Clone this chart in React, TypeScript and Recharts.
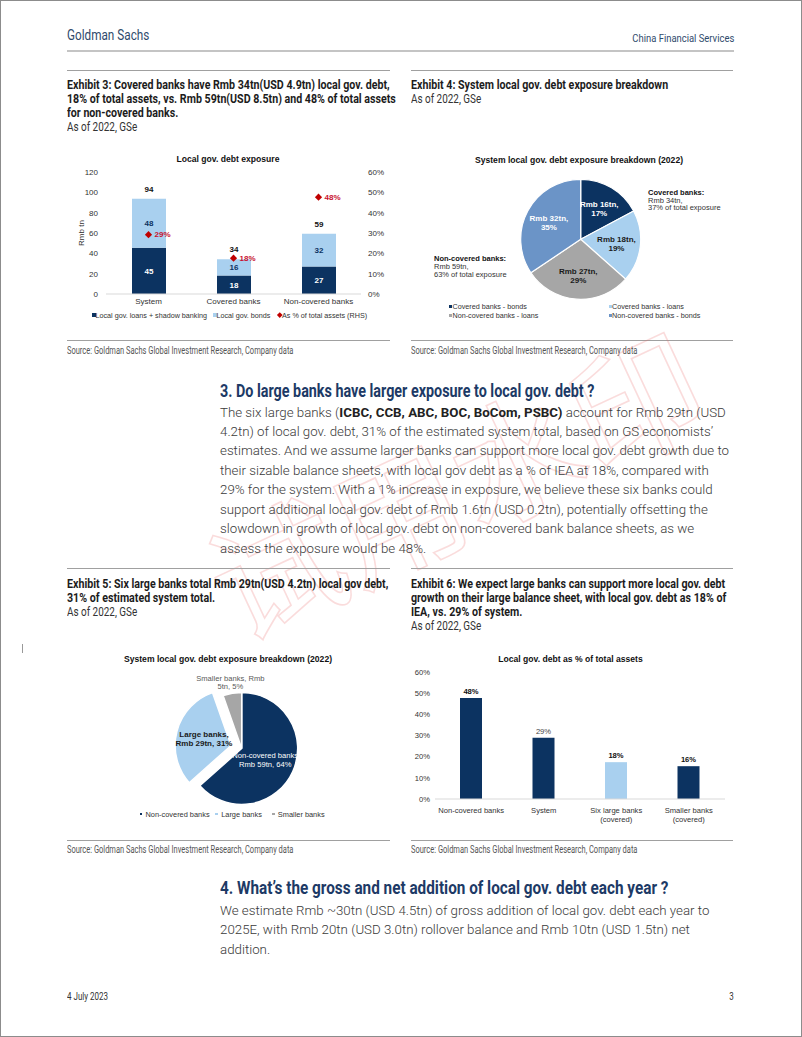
import React from "react";
import { ComposedChart, BarChart, Bar, Line, XAxis, YAxis, LabelList, PieChart, Pie, Cell } from "recharts";

const NAVY = "#0c3361";
const LIGHT = "#a9d0ef";
const GREY = "#a6a6a6";
const MID = "#6b94c7";
const RED = "#c8102e";

const ARIAL = '"Liberation Sans", Arial, sans-serif';
const NARROW = "Roboto, sans-serif";
const BODY = 'Roboto, "Liberation Sans", sans-serif';

// Exhibit 3: local gov. debt exposure (Rmb tn) + % of total assets
const exposureCats = ["System", "Covered banks", "Non-covered banks"];
const loansShadow = [45.4, 18.3, 27.0];
const govBonds = [48.4, 15.9, 32.2];
const pctAssets = [29.2, 17.6, 47.6];
const exposureTicks = [0, 20, 40, 60, 80, 100, 120];
const pctTicks = [0, 10, 20, 30, 40, 50, 60];
const exposureSeries = ["Local gov. loans + shadow banking", "Local gov. bonds", "As % of total assets (RHS)"];

// Exhibit 4: system breakdown pie
const breakdownNames = ["Covered banks - bonds", "Covered banks - loans", "Non-covered banks - loans", "Non-covered banks - bonds"];
const breakdownValues = [16, 18, 27, 32];
const breakdownPct = [17, 19, 29, 35];
const breakdownColors = [NAVY, LIGHT, GREY, MID];

// Exhibit 5: large banks share pie
const bankNames = ["Non-covered banks", "Large banks", "Smaller banks"];
const bankValues = [59, 29, 5];
const bankPct = [64, 31, 5];
const bankColors = [NAVY, LIGHT, GREY];

// Exhibit 6: debt as % of total assets
const ratioCats = ["Non-covered banks", "System", "Six large banks\n(covered)", "Smaller banks\n(covered)"];
const ratioValues = [47.7, 28.9, 17.4, 15.5];
const ratioLabels = ["48%", "29%", "18%", "16%"];
const ratioColors = [NAVY, NAVY, LIGHT, NAVY];

const section3Lines = [
  "4.2tn) of local gov. debt, 31% of the estimated system total, based on GS economists’",
  "estimates. And we assume larger banks can support more local gov. debt growth due to",
  "their sizable balance sheets, with local gov debt as a % of IEA at 18%, compared with",
  "29% for the system. With a 1% increase in exposure, we believe these six banks could",
  "support additional local gov. debt of Rmb 1.6tn (USD 0.2tn), potentially offsetting the",
  "slowdown in growth of local gov. debt on non-covered bank balance sheets, as we",
  "assess the exposure would be 48%.",
];
const section4Lines = [
  "We estimate Rmb ~30tn (USD 4.5tn) of gross addition of local gov. debt each year to",
  "2025E, with Rmb 20tn (USD 3.0tn) rollover balance and Rmb 10tn (USD 1.5tn) net",
  "addition.",
];

const RAD = Math.PI / 180;

type TxtProps = {
  x?: number;
  right?: number;
  y: number;
  size: number;
  lh?: number;
  weight?: number | string;
  color?: string;
  font?: string;
  center?: boolean;
  sx?: number;
  children: React.ReactNode;
};

function Txt({ x = 0, right, y, size, lh, weight = 400, color = "#222", font = NARROW, center, sx, children }: TxtProps) {
  const L = lh ?? Math.round(size * 1.25);
  const scale = sx ?? (font === NARROW ? (Number(weight) >= 600 ? 0.86 : 0.8) : 1);
  const style: React.CSSProperties = {
    position: "absolute",
    top: y - L / 2,
    fontSize: size,
    lineHeight: `${L}px`,
    fontWeight: weight as any,
    color,
    fontFamily: font,
    whiteSpace: "nowrap",
  };
  if (center) {
    style.left = x - 200;
    style.width = 400;
    style.textAlign = "center";
  } else if (right !== undefined) {
    style.right = 802 - right;
  } else {
    style.left = x;
  }
  if (scale !== 1) {
    style.transform = `scaleX(${scale})`;
    style.transformOrigin = center ? "50% 50%" : right !== undefined ? "100% 50%" : "0 50%";
  }
  return <div style={style}>{children}</div>;
}

function Rule({ x1, x2, y, h = 1, color = "#a0a0a0" }: { x1: number; x2: number; y: number; h?: number; color?: string }) {
  return <div style={{ position: "absolute", left: x1, top: y, width: x2 - x1, height: h, background: color }} />;
}

function Marker({ x, y, color, shape = "square", size = 4 }: { x: number; y: number; color: string; shape?: string; size?: number }) {
  return (
    <div
      style={{
        position: "absolute",
        left: x - size / 2,
        top: y - size / 2,
        width: size,
        height: size,
        background: color,
        transform: shape === "diamond" ? "rotate(45deg)" : undefined,
      }}
    />
  );
}

const tickStyle = { fontSize: 8, fill: "#333", fontFamily: ARIAL };

function ExposureChart() {
  const data = exposureCats.map((name, i) => ({
    name,
    loans: loansShadow[i],
    bonds: govBonds[i],
    total: loansShadow[i] + govBonds[i],
    pct: pctAssets[i],
  }));

  const diamond = (p: any) => {
    const s = 3.6;
    return (
      <path
        key={`dm${p.index}`}
        d={`M${p.cx},${p.cy - s}L${p.cx + s},${p.cy}L${p.cx},${p.cy + s}L${p.cx - s},${p.cy}Z`}
        fill="#c00000"
      />
    );
  };

  return (
    <ComposedChart width={330} height={160} data={data} margin={{ top: 22, right: 0, bottom: 0, left: 0 }}>
      <XAxis
        dataKey="name"
        height={16}
        interval={0}
        tickLine={false}
        tickSize={0}
        tickMargin={4}
        axisLine={{ stroke: "#d9d9d9" }}
        tick={tickStyle}
      />
      <YAxis
        yAxisId="left"
        width={46}
        domain={[0, 120]}
        ticks={exposureTicks}
        axisLine={false}
        tickLine={false}
        tickSize={0}
        tickMargin={8}
        tick={tickStyle}
        label={{ value: "Rmb tn", angle: -90, position: "center", dx: -2, fontSize: 8, fill: "#333", fontFamily: ARIAL }}
      />
      <YAxis
        yAxisId="right"
        orientation="right"
        width={29}
        domain={[0, 60]}
        ticks={pctTicks}
        tickFormatter={(v) => `${v}%`}
        axisLine={false}
        tickLine={false}
        tickSize={0}
        tickMargin={7}
        tick={tickStyle}
      />
      <Bar yAxisId="left" dataKey="loans" stackId="a" fill={NAVY} barSize={34} isAnimationActive={false}>
        <LabelList
          dataKey="loans"
          position="center"
          formatter={(v: any) => Math.round(Number(v))}
          fill="#fff"
          fontSize={8}
          fontWeight="bold"
          fontFamily={ARIAL}
        />
      </Bar>
      <Bar yAxisId="left" dataKey="bonds" stackId="a" fill={LIGHT} barSize={34} isAnimationActive={false}>
        <LabelList
          dataKey="bonds"
          position="center"
          formatter={(v: any) => Math.round(Number(v))}
          fill={NAVY}
          fontSize={8}
          fontWeight="bold"
          fontFamily={ARIAL}
        />
        <LabelList
          dataKey="total"
          position="top"
          offset={7}
          formatter={(v: any) => Math.round(Number(v))}
          fill="#111"
          fontSize={8}
          fontWeight="bold"
          fontFamily={ARIAL}
        />
      </Bar>
      <Line yAxisId="right" dataKey="pct" stroke="none" dot={diamond} activeDot={false} isAnimationActive={false}>
        <LabelList
          dataKey="pct"
          position="right"
          offset={6}
          formatter={(v: any) => `${Math.round(Number(v))}%`}
          fill={RED}
          fontSize={8}
          fontWeight="bold"
          fontFamily={ARIAL}
        />
      </Line>
    </ComposedChart>
  );
}

function BreakdownPie() {
  const data = breakdownNames.map((name, i) => ({ name, value: breakdownValues[i] }));
  const label = (p: any) => {
    const i = p.index;
    const r = p.outerRadius * 0.6;
    const x = p.cx + r * Math.cos(-p.midAngle * RAD);
    const y = p.cy + r * Math.sin(-p.midAngle * RAD);
    const fill = i === 0 || i === 3 ? "#fff" : "#1a1a1a";
    return (
      <text key={`bl${i}`} x={x} y={y} textAnchor="middle" fontSize={8} fontWeight="bold" fill={fill} fontFamily={ARIAL}>
        <tspan x={x} dy={-1.3}>{`Rmb ${breakdownValues[i]}tn,`}</tspan>
        <tspan x={x} dy={8.6}>{`${breakdownPct[i]}%`}</tspan>
      </text>
    );
  };
  return (
    <PieChart width={330} height={180}>
      <Pie
        data={data}
        dataKey="value"
        cx={170.7}
        cy={84.3}
        outerRadius={60}
        startAngle={90}
        endAngle={-270}
        stroke="#fff"
        strokeWidth={1.2}
        labelLine={false}
        label={label}
        isAnimationActive={false}
      >
        {data.map((d, i) => (
          <Cell key={d.name} fill={breakdownColors[i]} />
        ))}
      </Pie>
    </PieChart>
  );
}

function BanksPie() {
  const data = bankNames.map((name, i) => ({ name, value: bankValues[i] }));
  const label = (p: any) => {
    const i = p.index;
    if (i === 1) return <g key={`n${i}`} />;
    if (i === 0) {
      const r = p.outerRadius * 0.48;
      const x = p.cx + r * Math.cos(-p.midAngle * RAD);
      const y = p.cy + r * Math.sin(-p.midAngle * RAD);
      return (
        <text key={`bk${i}`} x={x - 1} y={y} textAnchor="middle" fontSize={7.6} fill="#fff" fontFamily={ARIAL}>
          <tspan x={x - 1} dy={-1.3}>{bankNames[i]}</tspan>
          <tspan x={x - 1} dy={8.4}>{`Rmb ${bankValues[i]}tn, ${bankPct[i]}%`}</tspan>
        </text>
      );
    }
    const r = p.outerRadius * 1.2;
    const x = p.cx + r * Math.cos(-p.midAngle * RAD);
    const y = p.cy + r * Math.sin(-p.midAngle * RAD);
    return (
      <text key={`bk${i}`} x={x} y={y} textAnchor="middle" fontSize={7.6} fill="#595959" fontFamily={ARIAL}>
        <tspan x={x} dy={-1.3}>{`${bankNames[i]}, Rmb`}</tspan>
        <tspan x={x} dy={8.2}>{`${bankValues[i]}tn, ${bankPct[i]}%`}</tspan>
      </text>
    );
  };
  const labelLarge = (p: any) => {
    const i = p.index;
    if (i !== 1) return <g key={`m${i}`} />;
    const r = p.outerRadius * 0.5;
    const x = p.cx + r * Math.cos(-p.midAngle * RAD);
    const y = p.cy + r * Math.sin(-p.midAngle * RAD);
    return (
      <text key={`lg${i}`} x={x} y={y} textAnchor="middle" fontSize={8} fontWeight="bold" fill="#1a1a1a" fontFamily={ARIAL}>
        <tspan x={x} dy={-1.3}>{`${bankNames[i]},`}</tspan>
        <tspan x={x} dy={8.6}>{`Rmb ${bankValues[i]}tn, ${bankPct[i]}%`}</tspan>
      </text>
    );
  };
  return (
    <PieChart width={330} height={180}>
      <Pie
        data={data}
        dataKey="value"
        cx={176.7}
        cy={98.5}
        outerRadius={56}
        startAngle={90}
        endAngle={-270}
        labelLine={false}
        label={label}
        isAnimationActive={false}
      >
        {data.map((d, i) => (
          <Cell
            key={d.name}
            fill={i === 1 ? "transparent" : bankColors[i]}
            stroke={i === 1 ? "none" : "#fff"}
            strokeWidth={1.5}
          />
        ))}
      </Pie>
      <Pie
        data={data}
        dataKey="value"
        cx={166.1}
        cy={95.5}
        outerRadius={56}
        startAngle={90}
        endAngle={-270}
        labelLine={false}
        label={labelLarge}
        isAnimationActive={false}
      >
        {data.map((d, i) => (
          <Cell
            key={d.name}
            fill={i === 1 ? bankColors[i] : "transparent"}
            stroke={i === 1 ? "#fff" : "none"}
            strokeWidth={1.5}
          />
        ))}
      </Pie>
    </PieChart>
  );
}

function RatioChart() {
  const data = ratioCats.map((name, i) => ({ name, value: ratioValues[i] }));
  const tick = (p: any) => {
    const lines = String(p.payload.value).split("\n");
    return (
      <text x={p.x} y={p.y} textAnchor="middle" fontSize={7.6} fill="#333" fontFamily={ARIAL}>
        {lines.map((l, k) => (
          <tspan key={k} x={p.x} dy={k === 0 ? 12 : 8.6}>
            {l}
          </tspan>
        ))}
      </text>
    );
  };
  const topLabel = (p: any) => {
    const i = p.index;
    const x = p.x + p.width / 2;
    return (
      <text
        key={`rl${i}`}
        x={x}
        y={p.y - 4}
        textAnchor="middle"
        fontSize={7.6}
        fontWeight={i === 1 ? "normal" : "bold"}
        fill={i === 1 ? "#444" : "#111"}
        fontFamily={ARIAL}
      >
        {ratioLabels[i]}
      </text>
    );
  };
  return (
    <BarChart width={330} height={180} data={data} margin={{ top: 27, right: 10, bottom: 0, left: 0 }}>
      <XAxis dataKey="name" height={26} interval={0} tickLine={false} tickSize={0} axisLine={{ stroke: "#d9d9d9" }} tick={tick} />
      <YAxis
        width={30}
        domain={[0, 60]}
        ticks={pctTicks}
        tickFormatter={(v) => `${v}%`}
        axisLine={false}
        tickLine={false}
        tickSize={0}
        tickMargin={5}
        tick={{ fontSize: 7.6, fill: "#333", fontFamily: ARIAL }}
      />
      <Bar dataKey="value" barSize={22} isAnimationActive={false}>
        {data.map((d, i) => (
          <Cell key={d.name} fill={ratioColors[i]} />
        ))}
        <LabelList dataKey="value" content={topLabel} />
      </Bar>
    </BarChart>
  );
}

function TitleBlock({ x, y, lines, sub }: { x: number; y: number; lines: string[]; sub: string }) {
  return (
    <>
      {lines.map((l, i) => (
        <Txt key={i} x={x} y={y + i * 14} size={12.4} lh={14} weight={700} color="#1c1c1c">
          {l}
        </Txt>
      ))}
      <Txt x={x} y={y + lines.length * 14} size={12.4} lh={14} color="#333">
        {sub}
      </Txt>
    </>
  );
}

const SOURCE = "Source: Goldman Sachs Global Investment Research, Company data";

export default function App() {
  return (
    <div style={{ position: "relative", width: 802, height: 1037, background: "#fff", overflow: "hidden" }}>
      <style>{`body{margin:0;background:#fff}`}</style>
      <div style={{ position: "absolute", inset: 0, border: "1px solid #8c8c8c", pointerEvents: "none" }} />

      {/* header */}
      <Txt x={67} y={36} size={14.5} lh={18} color="#2f4a6c" sx={0.81}>Goldman Sachs</Txt>
      <Txt right={734} y={38} size={11.5} lh={14} color="#2f4a6c" sx={0.82}>China Financial Services</Txt>
      <Rule x1={67} x2={734} y={50} h={2} color="#c4c4c4" />

      {/* Exhibit 3 & 4 */}
      <Rule x1={67} x2={390} y={70} />
      <Rule x1={411} x2={733} y={70} />
      <TitleBlock
        x={67}
        y={85}
        lines={[
          "Exhibit 3: Covered banks have Rmb 34tn(USD 4.9tn) local gov. debt,",
          "18% of total assets, vs. Rmb 59tn(USD 8.5tn) and 48% of total assets",
          "for non-covered banks.",
        ]}
        sub="As of 2022, GSe"
      />
      <TitleBlock x={411} y={85} lines={["Exhibit 4: System local gov. debt exposure breakdown"]} sub="As of 2022, GSe" />

      <Txt x={228} center y={159} size={8.6} lh={11} weight={700} font={ARIAL} color="#111">Local gov. debt exposure</Txt>
      <div style={{ position: "absolute", left: 60, top: 150 }}>
        <ExposureChart />
      </div>
      <Marker x={93.5} y={315} color={NAVY} />
      <Txt x={95.5} y={315} size={7.2} lh={9} font={ARIAL} color="#333">{exposureSeries[0]}</Txt>
      <Marker x={214.5} y={315} color={LIGHT} />
      <Txt x={216.5} y={315} size={7.2} lh={9} font={ARIAL} color="#333">{exposureSeries[1]}</Txt>
      <Marker x={280} y={315} color="#c00000" shape="diamond" size={3.5} />
      <Txt x={282} y={315} size={7.2} lh={9} font={ARIAL} color="#333">{exposureSeries[2]}</Txt>

      <Txt x={579} center y={160} size={8.6} lh={11} weight={700} font={ARIAL} color="#111">
        System local gov. debt exposure breakdown (2022)
      </Txt>
      <div style={{ position: "absolute", left: 405, top: 150 }}>
        <BreakdownPie />
      </div>
      <Txt x={648} y={192.7} size={7.5} lh={8} weight={700} font={ARIAL} color="#111">Covered banks:</Txt>
      <Txt x={648} y={200.5} size={7.5} lh={8} font={ARIAL} color="#333">{`Rmb ${breakdownValues[0] + breakdownValues[1]}tn,`}</Txt>
      <Txt x={648} y={208.3} size={7.5} lh={8} font={ARIAL} color="#333">37% of total exposure</Txt>
      <Txt x={434} y={259.3} size={7.5} lh={8} weight={700} font={ARIAL} color="#111">Non-covered banks:</Txt>
      <Txt x={434} y={267} size={7.5} lh={8} font={ARIAL} color="#333">{`Rmb ${breakdownValues[2] + breakdownValues[3]}tn,`}</Txt>
      <Txt x={434} y={274.5} size={7.5} lh={8} font={ARIAL} color="#333">63% of total exposure</Txt>
      {breakdownNames.map((n, i) => {
        const lx = i === 0 || i === 2 ? 450.5 : 610;
        const ly = i < 2 ? 306 : 315;
        return (
          <React.Fragment key={n}>
            <Marker x={lx} y={ly} color={breakdownColors[i]} size={3} />
            <Txt x={lx + 2} y={ly} size={7.2} lh={9} font={ARIAL} color="#333">
              {n}
            </Txt>
          </React.Fragment>
        );
      })}

      <Rule x1={67} x2={390} y={340} />
      <Rule x1={411} x2={733} y={340} />
      <Txt x={67} y={351} size={10} lh={12} color="#555" sx={0.75}>{SOURCE}</Txt>
      <Txt x={411} y={351} size={10} lh={12} color="#555" sx={0.75}>{SOURCE}</Txt>

      {/* watermark */}
      <div
        style={{
          position: "absolute",
          left: 244,
          top: 515,
          fontSize: 132,
          lineHeight: "140px",
          fontFamily: '"Noto Sans CJK SC", sans-serif',
          color: "transparent",
          WebkitTextStroke: "1.6px rgba(235,110,110,0.24)",
          transform: "rotate(-25deg)",
          transformOrigin: "0 100%",
          whiteSpace: "nowrap",
        }}
      >
        试用水印
      </div>

      {/* section 3 */}
      <Txt x={220} y={391.5} size={17.5} lh={21} weight={700} color="#1d3a66" sx={0.82}>
        3. Do large banks have larger exposure to local gov. debt ?
      </Txt>
      <Txt x={220} y={412} size={13.3} lh={19} weight={300} font={BODY} color="#3a3a3a">
        The six large banks (<b style={{ color: "#222", fontWeight: 700 }}>ICBC, CCB, ABC, BOC, BoCom, PSBC)</b> account for Rmb 29tn (USD
      </Txt>
      {section3Lines.map((l, i) => (
        <Txt key={i} x={220} y={412 + (i + 1) * 19.45} size={13.3} lh={19} weight={300} font={BODY} color="#3a3a3a">
          {l}
        </Txt>
      ))}

      {/* Exhibit 5 & 6 */}
      <Rule x1={67} x2={390} y={568} />
      <Rule x1={411} x2={733} y={568} />
      <TitleBlock
        x={67}
        y={584}
        lines={["Exhibit 5: Six large banks total Rmb 29tn(USD 4.2tn) local gov debt,", "31% of estimated system total."]}
        sub="As of 2022, GSe"
      />
      <TitleBlock
        x={411}
        y={583.5}
        lines={[
          "Exhibit 6: We expect large banks can support more local gov. debt",
          "growth on their large balance sheet, with local gov. debt as 18% of",
          "IEA, vs. 29% of system.",
        ]}
        sub="As of 2022, GSe"
      />
      <div style={{ position: "absolute", left: 22, top: 644, width: 1, height: 9, background: "#999" }} />

      <Txt x={228} center y={659} size={8.6} lh={11} weight={700} font={ARIAL} color="#111">
        System local gov. debt exposure breakdown (2022)
      </Txt>
      <div style={{ position: "absolute", left: 60, top: 645 }}>
        <BanksPie />
      </div>
      {bankNames.map((n, i) => {
        const xs = [141, 216.7, 273.3];
        return (
          <React.Fragment key={n}>
            <Marker x={xs[i]} y={814} color={bankColors[i]} size={2.5} />
            <Txt x={xs[i] + 4.5} y={814} size={7.4} lh={9} font={ARIAL} color="#333">
              {n}
            </Txt>
          </React.Fragment>
        );
      })}

      <Txt x={570.5} center y={659} size={8.6} lh={11} weight={700} font={ARIAL} color="#111">
        Local gov. debt as % of total assets
      </Txt>
      <div style={{ position: "absolute", left: 405, top: 645 }}>
        <RatioChart />
      </div>

      <Rule x1={67} x2={390} y={840} />
      <Rule x1={411} x2={733} y={840} />
      <Txt x={67} y={850} size={10} lh={12} color="#555" sx={0.75}>{SOURCE}</Txt>
      <Txt x={411} y={850} size={10} lh={12} color="#555" sx={0.75}>{SOURCE}</Txt>

      {/* section 4 */}
      <Txt x={220} y={888} size={17.5} lh={21} weight={700} color="#1d3a66" sx={0.875}>
        4. What’s the gross and net addition of local gov. debt each year ?
      </Txt>
      {section4Lines.map((l, i) => (
        <Txt key={i} x={220} y={910 + i * 19.5} size={13.3} lh={19} weight={300} font={BODY} color="#3a3a3a">
          {l}
        </Txt>
      ))}

      {/* footer */}
      <Txt x={67} y={997} size={10} lh={12} color="#333">4 July 2023</Txt>
      <Txt right={734} y={997} size={10} lh={12} color="#333">3</Txt>
    </div>
  );
}
